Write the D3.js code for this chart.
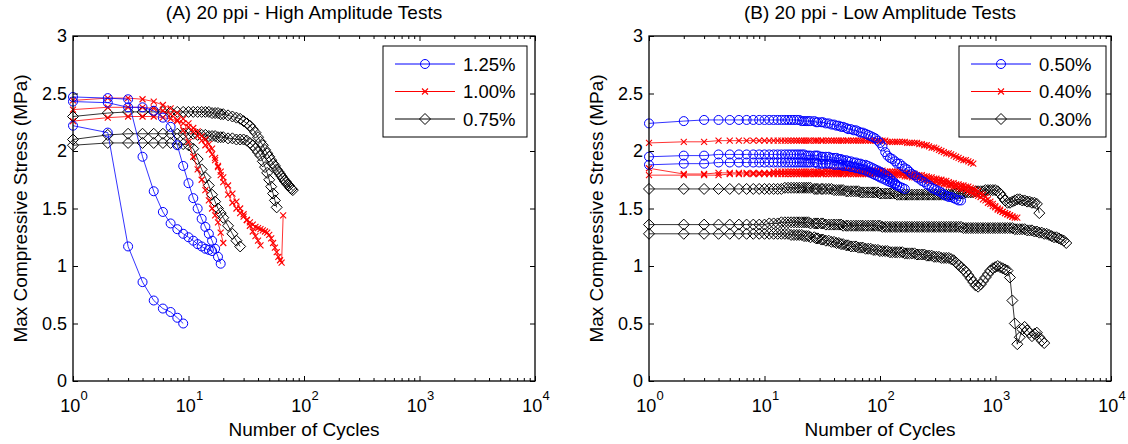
<!DOCTYPE html>
<html>
<head>
  <meta charset="utf-8">
  <script src="https://d3js.org/d3.v7.min.js"></script>
  <style>
    body { margin: 0; background: #fff; }
    text { font-family: "Liberation Sans", Arial, sans-serif; fill: #000; }
  </style>
</head>
<body>
  <script>
    // cycle numbers where readings were taken (x values), one grid per panel
    const cyclesA = [1,2,3,4,5,6,7,8,9,10,11,12,13,14,15,16,17,18,19,20,
                     22,24,26,28,30,32,34,36,38,40,42,44,46,48,50,52,54,56,58,60,
                     62,64,66,68,70,72,74,76,78,80];
    const cyclesB = [1,2,3,4,5,6,7,8,9,10,
                     11,12,13,14,15,16,17,18,19,20,
                     21,22,23,24,25,27,28,29,31,32,
                     34,36,38,40,42,44,46,48,51,53,
                     56,59,62,65,68,71,75,79,83,87,
                     91,96,100,105,111,116,122,128,135,141,
                     148,156,164,172,180,189,199,209,219,230,
                     242,254,266,280,294,308,324,340,357,375,
                     394,413,434,456,479,503,528,554,582,611,
                     642,674,707,743,780,819,860,903,948,995,
                     1045,1097,1152,1210,1270,1334,1400,1470,1544,1621,
                     1702,1787,1877,1971,2069,2173,2281,2395,2515,2641,
                     2773,2911,3057,3210,3370,3539,3716,3902,4097];

    // (A) high amplitude tests, max compressive stress (MPa)
    const a125_1 = [2.22,2.16,1.17,0.86,0.70,0.63,0.60,0.55,0.50];
    const a125_2 = [2.47,2.46,2.45,1.95,1.65,1.47,1.37,1.32,1.28,1.25,1.22,1.19,1.17,1.15,1.14,1.13];
    const a125_3 = [2.43,2.42,2.38,2.38,2.35,2.29,2.21,2.05,1.87,1.72,1.59,1.50,1.41,1.34,1.28,1.22,1.15,1.08,1.02];
    const a100_1 = [2.44,2.46,2.46,2.45,2.43,2.40,2.37,2.33,2.28,2.24,2.20,2.17,2.13,2.10,2.06,2.02,1.94,1.86,1.79,1.73,
                    1.62,1.55,1.50,1.46,1.43,1.40,1.38,1.36,1.34,1.33,1.32,1.31,1.30,1.29,1.27,1.24,1.20,1.16,1.12,1.08,
                    1.05,1.03,1.44];
    const a100_2 = [2.36,2.38,2.38,2.38,2.37,2.35,2.32,2.27,2.18,2.08,1.95,1.84,1.75,1.66,1.57,1.50,1.44,1.38,1.29,1.20];
    const a100_3 = [2.26,2.29,2.30,2.30,2.30,2.29,2.28,2.26,2.24,2.21,2.17,2.13,2.09,2.05,2.01,1.97,1.92,1.87,1.82,1.77,
                    1.70,1.63,1.56,1.50,1.45,1.40,1.35,1.30,1.26,1.22,1.18];
    const a075_1 = [2.30,2.33,2.34,2.34,2.34,2.34,2.34,2.34,2.34,2.34,2.34,2.34,2.34,2.34,2.34,2.33,2.33,2.33,2.32,2.32,
                    2.31,2.30,2.29,2.28,2.26,2.24,2.22,2.19,2.16,2.12,2.08,2.05,2.01,1.98,1.95,1.92,1.89,1.87,1.84,1.82,
                    1.80,1.78,1.76,1.74,1.73,1.71,1.70,1.68,1.67,1.66];
    const a075_2 = [2.10,2.14,2.15,2.15,2.15,2.15,2.15,2.15,2.15,2.15,2.15,2.14,2.14,2.14,2.13,2.13,2.13,2.12,2.12,2.12,
                    2.11,2.11,2.10,2.10,2.10,2.09,2.07,2.05,2.02,1.99,1.96,1.91,1.86,1.81,1.75,1.69,1.63,1.57,1.51];
    const a075_3 = [2.05,2.07,2.07,2.07,2.07,2.07,2.07,2.06,2.06,2.05,2.02,1.93,1.84,1.77,1.70,1.62,1.56,1.50,1.46,1.42,
                    1.35,1.28,1.22,1.17];

    // (B) low amplitude tests, max compressive stress (MPa)
    const b050_1 = [2.24,2.26,2.27,2.27,2.27,2.27,2.27,2.27,2.27,2.27,
                    2.27,2.27,2.27,2.27,2.27,2.27,2.27,2.27,2.27,2.27,
                    2.26,2.26,2.26,2.26,2.26,2.26,2.25,2.25,2.25,2.25,
                    2.24,2.24,2.23,2.23,2.22,2.22,2.21,2.21,2.20,2.19,
                    2.19,2.18,2.18,2.17,2.16,2.16,2.15,2.14,2.13,2.12,
                    2.11,2.09,2.07,2.04,1.99,1.96,1.94,1.93,1.91,1.89,
                    1.89,1.87,1.85,1.84,1.82,1.80,1.79,1.77,1.76,1.74,
                    1.73,1.71,1.70,1.68,1.67,1.66,1.65,1.64,1.62,1.61,
                    1.60,1.60,1.59,1.58,1.57,1.57];
    const b050_2 = [1.95,1.96,1.96,1.97,1.97,1.97,1.97,1.97,1.97,1.97,
                    1.97,1.97,1.97,1.97,1.97,1.97,1.97,1.97,1.97,1.97,
                    1.97,1.97,1.96,1.96,1.96,1.96,1.96,1.96,1.95,1.95,
                    1.95,1.95,1.94,1.94,1.94,1.93,1.93,1.92,1.92,1.91,
                    1.91,1.90,1.90,1.89,1.89,1.88,1.88,1.87,1.86,1.85,
                    1.84,1.83,1.82,1.81,1.79,1.78,1.76,1.74,1.72,1.70,
                    1.69,1.68,1.67];
    const b050_3 = [1.88,1.89,1.89,1.90,1.90,1.90,1.90,1.90,1.90,1.90,
                    1.90,1.90,1.90,1.90,1.90,1.90,1.90,1.90,1.90,1.90,
                    1.90,1.90,1.90,1.90,1.90,1.90,1.90,1.89,1.89,1.89,
                    1.89,1.89,1.89,1.88,1.88,1.88,1.88,1.87,1.87,1.87,
                    1.86,1.86,1.85,1.85,1.84,1.84,1.83,1.82,1.81,1.80,
                    1.79,1.78,1.77,1.76,1.75,1.74,1.73,1.72,1.71,1.70];
    const b040_1 = [2.07,2.08,2.08,2.09,2.09,2.09,2.09,2.09,2.09,2.09,
                    2.09,2.09,2.09,2.09,2.09,2.09,2.09,2.09,2.09,2.09,
                    2.09,2.09,2.09,2.09,2.09,2.09,2.09,2.09,2.09,2.09,
                    2.09,2.09,2.09,2.09,2.09,2.09,2.09,2.09,2.09,2.09,
                    2.09,2.09,2.09,2.09,2.09,2.09,2.09,2.09,2.09,2.09,
                    2.09,2.09,2.09,2.09,2.09,2.08,2.08,2.08,2.08,2.08,
                    2.08,2.08,2.08,2.07,2.07,2.07,2.07,2.07,2.06,2.06,
                    2.05,2.05,2.04,2.03,2.03,2.02,2.01,2.00,1.99,1.98,
                    1.98,1.97,1.96,1.95,1.94,1.93,1.92,1.92,1.91,1.90,
                    1.89];
    const b040_2 = [1.85,1.80,1.80,1.81,1.81,1.81,1.81,1.81,1.81,1.81,
                    1.81,1.82,1.82,1.82,1.82,1.82,1.82,1.82,1.82,1.82,
                    1.82,1.82,1.82,1.82,1.82,1.82,1.82,1.82,1.82,1.82,
                    1.83,1.83,1.83,1.83,1.83,1.83,1.83,1.83,1.83,1.83,
                    1.83,1.83,1.83,1.83,1.83,1.83,1.83,1.83,1.83,1.83,
                    1.83,1.83,1.83,1.83,1.82,1.82,1.82,1.82,1.82,1.82,
                    1.82,1.81,1.81,1.81,1.80,1.80,1.80,1.79,1.79,1.79,
                    1.78,1.78,1.77,1.77,1.76,1.76,1.75,1.75,1.74,1.74,
                    1.73,1.72,1.72,1.71,1.71,1.70,1.70,1.69,1.69,1.68,
                    1.67,1.66,1.65,1.63,1.62,1.60,1.58,1.56,1.54,1.52,
                    1.50,1.49,1.47,1.46,1.45,1.44,1.43];
    const b040_3 = [1.79,1.79,1.79,1.79,1.80,1.80,1.80,1.80,1.80,1.80,
                    1.80,1.80,1.80,1.80,1.80,1.80,1.80,1.80,1.80,1.80,
                    1.80,1.80,1.80,1.80,1.80,1.80,1.80,1.80,1.80,1.80,
                    1.80,1.80,1.80,1.80,1.80,1.80,1.80,1.80,1.80,1.80,
                    1.80,1.80,1.80,1.80,1.80,1.80,1.80,1.80,1.80,1.80,
                    1.80,1.80,1.80,1.80,1.80,1.80,1.80,1.79,1.79,1.79,
                    1.79,1.79,1.78,1.78,1.78,1.77,1.77,1.77,1.76,1.76,
                    1.75,1.75,1.74,1.74,1.73,1.73,1.72,1.72,1.71,1.71,
                    1.70,1.70,1.69,1.69,1.68,1.67,1.67,1.66,1.65,1.64,
                    1.63,1.62,1.61,1.60,1.58,1.57,1.55,1.54,1.52,1.51,
                    1.49,1.48,1.47,1.46,1.45,1.44,1.43,1.42,1.42];
    const b030_1 = [1.67,1.67,1.67,1.67,1.67,1.67,1.67,1.67,1.67,1.67,
                    1.67,1.67,1.67,1.67,1.68,1.68,1.68,1.68,1.68,1.68,
                    1.68,1.68,1.68,1.68,1.68,1.67,1.67,1.67,1.67,1.67,
                    1.67,1.67,1.67,1.66,1.66,1.66,1.66,1.66,1.65,1.65,
                    1.65,1.65,1.65,1.65,1.64,1.64,1.64,1.64,1.64,1.64,
                    1.64,1.64,1.63,1.63,1.63,1.63,1.63,1.63,1.63,1.62,
                    1.62,1.62,1.62,1.62,1.62,1.62,1.62,1.62,1.62,1.62,
                    1.62,1.62,1.62,1.62,1.62,1.62,1.62,1.62,1.62,1.62,
                    1.62,1.62,1.63,1.63,1.63,1.63,1.63,1.64,1.64,1.64,
                    1.64,1.65,1.65,1.65,1.65,1.66,1.66,1.66,1.66,1.66,
                    1.65,1.63,1.60,1.57,1.55,1.55,1.56,1.57,1.58,1.58,
                    1.57,1.57,1.56,1.56,1.55,1.55,1.54,1.46];
    const b030_2 = [1.36,1.36,1.36,1.36,1.36,1.36,1.36,1.36,1.36,1.36,
                    1.37,1.37,1.37,1.38,1.38,1.38,1.38,1.38,1.38,1.38,
                    1.38,1.38,1.38,1.38,1.37,1.37,1.37,1.37,1.37,1.37,
                    1.36,1.36,1.36,1.36,1.36,1.36,1.36,1.35,1.35,1.35,
                    1.35,1.35,1.35,1.35,1.35,1.35,1.35,1.35,1.35,1.35,
                    1.35,1.35,1.35,1.34,1.34,1.34,1.34,1.34,1.34,1.34,
                    1.34,1.34,1.34,1.34,1.34,1.34,1.34,1.34,1.34,1.34,
                    1.34,1.34,1.34,1.34,1.34,1.34,1.34,1.34,1.34,1.34,
                    1.34,1.34,1.34,1.34,1.34,1.34,1.33,1.33,1.33,1.33,
                    1.33,1.33,1.33,1.33,1.33,1.33,1.33,1.33,1.33,1.33,
                    1.33,1.33,1.33,1.33,1.33,1.33,1.33,1.32,1.32,1.32,
                    1.32,1.32,1.31,1.31,1.31,1.30,1.30,1.29,1.29,1.28,
                    1.28,1.27,1.26,1.25,1.25,1.24,1.23,1.22,1.20];
    const b030_3 = [1.28,1.28,1.28,1.28,1.28,1.28,1.28,1.28,1.28,1.28,
                    1.28,1.28,1.28,1.28,1.28,1.28,1.27,1.27,1.27,1.27,
                    1.27,1.26,1.26,1.26,1.25,1.25,1.24,1.24,1.23,1.23,
                    1.22,1.22,1.21,1.21,1.20,1.20,1.19,1.19,1.18,1.18,
                    1.17,1.17,1.17,1.16,1.16,1.16,1.15,1.15,1.15,1.14,
                    1.14,1.14,1.13,1.13,1.13,1.13,1.12,1.12,1.12,1.12,
                    1.12,1.12,1.11,1.11,1.11,1.11,1.11,1.10,1.10,1.10,
                    1.10,1.09,1.09,1.09,1.08,1.08,1.08,1.07,1.07,1.07,
                    1.07,1.06,1.05,1.03,1.01,0.99,0.97,0.95,0.92,0.89,
                    0.86,0.83,0.82,0.84,0.87,0.90,0.93,0.96,0.98,0.99,
                    1.00,0.99,0.98,0.97,0.96,0.90,0.70,0.50,0.32,0.38,
                    0.45,0.47,0.44,0.42,0.39,0.41,0.42,0.38,0.35,0.33];

    const yTicks = [0, 0.5, 1, 1.5, 2, 2.5, 3];
    const xDecades = [1, 10, 100, 1000, 10000];
    const legendA = ["1.25%", "1.00%", "0.75%"];
    const legendB = ["0.50%", "0.40%", "0.30%"];
    const colors = ["#0000ff", "#ff0000", "#000000"];
    const markers = ["circle", "x", "diamond"];

    const W = 1128, H = 444;
    const plotTop = 36, plotBottom = 381;

    const svg = d3.select("body")
      .append("svg")
        .attr("width", W)
        .attr("height", H)
        .style("background", "#fff");

    function drawMarker(g, kind, color, cx, cy) {
      if (kind === "circle") {
        g.append("circle")
          .attr("cx", cx).attr("cy", cy).attr("r", 4.5)
          .attr("fill", "none").attr("stroke", color).attr("stroke-width", 1);
      } else if (kind === "diamond") {
        g.append("path")
          .attr("d", `M${cx},${cy - 5.5}L${cx + 5.5},${cy}L${cx},${cy + 5.5}L${cx - 5.5},${cy}Z`)
          .attr("fill", "none").attr("stroke", color).attr("stroke-width", 1);
      } else {
        g.append("path")
          .attr("d", `M${cx - 3},${cy - 3}L${cx + 3},${cy + 3}M${cx - 3},${cy + 3}L${cx + 3},${cy - 3}`)
          .attr("fill", "none").attr("stroke", color).attr("stroke-width", 1.1);
      }
    }

    function drawPanel(x0, x1, title, cycles, groups, labels, legendX, legendW) {
      const x = d3.scaleLog().domain([1, 10000]).range([x0, x1]);
      const y = d3.scaleLinear().domain([0, 3]).range([plotBottom, plotTop]);
      const g = svg.append("g");

      g.append("text")
        .attr("x", (x0 + x1) / 2).attr("y", 19)
        .attr("text-anchor", "middle")
        .style("font-size", "19px")
        .text(title);

      // tests, drawn black first so blue ends up on top
      const line = d3.line()
        .x((d, i) => x(cycles[i]))
        .y(d => y(d));
      [2, 1, 0].forEach(gi => {
        groups[gi].forEach(vals => {
          g.append("path")
            .attr("d", line(vals))
            .attr("fill", "none")
            .attr("stroke", colors[gi])
            .attr("stroke-width", 0.8);
          const mg = g.append("g");
          vals.forEach((v, i) => drawMarker(mg, markers[gi], colors[gi], x(cycles[i]), y(v)));
        });
      });

      // x ticks (inward, both sides)
      const minor = [];
      [1, 10, 100, 1000].forEach(d => { for (let k = 2; k <= 9; k++) minor.push(k * d); });
      const clean = a => a.call(s => s.select(".domain").remove())
                          .call(s => s.selectAll("line").attr("stroke", "#000"));
      g.append("g").attr("transform", `translate(0,${plotBottom})`)
        .call(d3.axisBottom(x).tickValues(minor).tickSize(-3).tickFormat("")).call(clean);
      g.append("g").attr("transform", `translate(0,${plotTop})`)
        .call(d3.axisTop(x).tickValues(minor).tickSize(-3).tickFormat("")).call(clean);
      g.append("g").attr("transform", `translate(0,${plotBottom})`)
        .call(d3.axisBottom(x).tickValues(xDecades).tickSize(-5).tickFormat("")).call(clean);
      g.append("g").attr("transform", `translate(0,${plotTop})`)
        .call(d3.axisTop(x).tickValues(xDecades).tickSize(-5).tickFormat("")).call(clean);

      // 10^k labels
      xDecades.forEach((d, k) => {
        const t = g.append("text")
          .attr("x", x(d) + 1).attr("y", 412)
          .attr("text-anchor", "middle")
          .style("font-size", "18px");
        t.append("tspan").text("10");
        t.append("tspan").attr("dy", -12.5).style("font-size", "13px").text(k);
      });

      // y ticks
      g.append("g").attr("transform", `translate(${x0},0)`)
        .call(d3.axisLeft(y).tickValues(yTicks).tickSize(-5).tickPadding(6).tickFormat(d3.format("")))
        .call(clean)
        .call(s => s.selectAll("text").style("font-size", "18px").attr("font-family", null));
      g.append("g").attr("transform", `translate(${x1},0)`)
        .call(d3.axisRight(y).tickValues(yTicks).tickSize(-5).tickFormat("")).call(clean);

      g.append("rect")
        .attr("x", x0).attr("y", plotTop)
        .attr("width", x1 - x0).attr("height", plotBottom - plotTop)
        .attr("fill", "none").attr("stroke", "#000").attr("stroke-width", 1.3);

      g.append("text")
        .attr("x", (x0 + x1) / 2).attr("y", 436)
        .attr("text-anchor", "middle")
        .style("font-size", "19px")
        .text("Number of Cycles");
      g.append("text")
        .attr("transform", `translate(${x0 - 46},${(plotTop + plotBottom) / 2}) rotate(-90)`)
        .attr("text-anchor", "middle")
        .style("font-size", "19px")
        .text("Max Compressive Stress (MPa)");

      // legend
      const lg = g.append("g");
      lg.append("rect")
        .attr("x", legendX).attr("y", 46)
        .attr("width", legendW).attr("height", 91)
        .attr("fill", "#fff").attr("stroke", "#000").attr("stroke-width", 1);
      labels.forEach((lab, i) => {
        const ly = 64 + i * 27.5;
        const lx = legendX + 12;
        lg.append("line")
          .attr("x1", lx).attr("x2", lx + 60)
          .attr("y1", ly).attr("y2", ly)
          .attr("stroke", colors[i]).attr("stroke-width", 1);
        drawMarker(lg, markers[i], colors[i], lx + 30, ly);
        lg.append("text")
          .attr("x", lx + 68).attr("y", ly + 6.5)
          .style("font-size", "18.5px")
          .text(lab);
      });
    }

    drawPanel(73, 535, "(A) 20 ppi - High Amplitude Tests", cyclesA,
      [[a125_1, a125_2, a125_3], [a100_1, a100_2, a100_3], [a075_1, a075_2, a075_3]],
      legendA, 383, 144);
    drawPanel(649, 1111, "(B) 20 ppi - Low Amplitude Tests", cyclesB,
      [[b050_1, b050_2, b050_3], [b040_1, b040_2, b040_3], [b030_1, b030_2, b030_3]],
      legendB, 959, 147);
  </script>
</body>
</html>
